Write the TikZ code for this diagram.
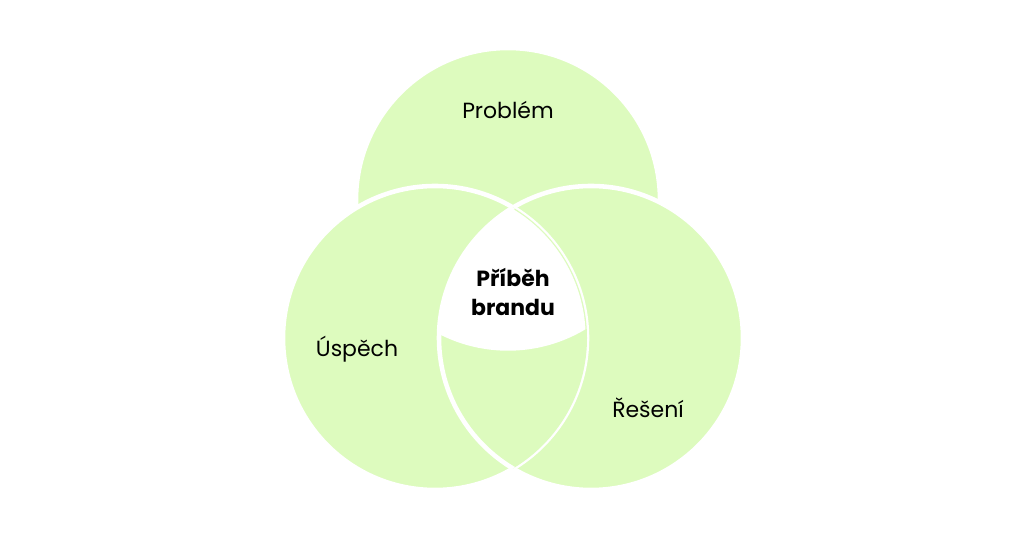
\documentclass[tikz,border=0pt]{standalone}
\usepackage{fontspec}
\setmainfont{Poppins}
\usetikzlibrary{positioning}
\definecolor{lightgreen}{HTML}{DDFBBE}
\tikzset{
	disc/.style={fill=lightgreen,draw=white,line width=2.6pt},
	hole/.style={fill=white},
	label/.style={font=\fontsize{12.5}{16}\selectfont, text centered},
	core/.style={font=\fontsize{12.5}{16}\selectfont\bfseries, align=center}
}
\begin{document}
\begin{tikzpicture}[x=0.02cm,y=-0.02cm]
		\useasboundingbox (0,0) rectangle (1024,536);
		\coordinate (top) at (508,200);
		\coordinate (left) at (435,338);
		\coordinate (right) at (591,338);

		\draw [disc] (top) circle (152);
		\draw [disc] (right) circle (152);
		\draw [disc] (left) circle (152);
		\begin{scope}
			\clip (left) circle (152);
			\draw [disc] (right) circle (152);
		\end{scope}
		\begin{scope}
			\clip (top) circle (150.7);
			\clip (left) circle (150.7);
			\fill [hole] (right) circle (150.7);
		\end{scope}

		\node [label] (problem) at (508,110) {Problém};
		\node [label] (uspech) at (357,349) {Úspěch};
		\node [label] (reseni) at (648,408) {Řešení};
		\node [core] (pribeh) at (513,292) {Příběh\\brandu};
\end{tikzpicture}
\end{document}
